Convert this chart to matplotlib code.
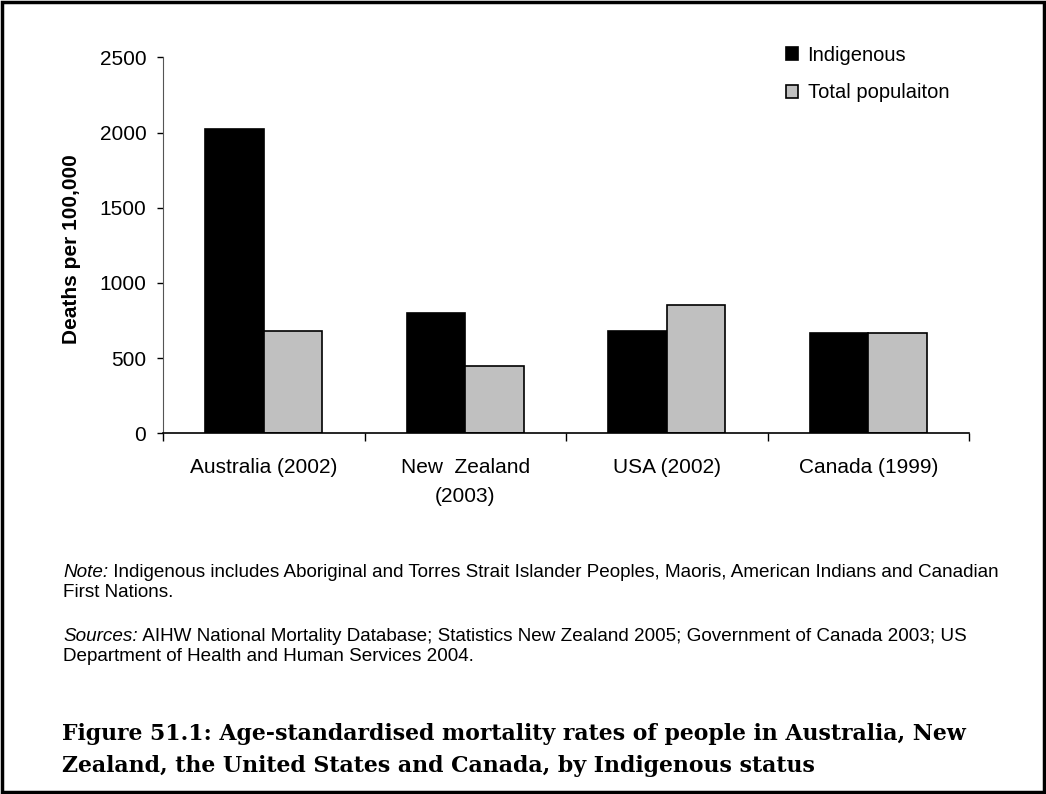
import numpy as np
import matplotlib
matplotlib.use("Agg")
import matplotlib.pyplot as plt
from matplotlib.patches import Rectangle

## Data ##
countries = ["Australia (2002)", "New  Zealand\n(2003)", "USA (2002)", "Canada (1999)"]
indigenous = [2020, 800, 680, 670]
total_pop = [680, 450, 850, 670]
series_names = ["Indigenous", "Total populaiton"]
y_ticks = [0, 500, 1000, 1500, 2000, 2500]

note_lines = ["Indigenous includes Aboriginal and Torres Strait Islander Peoples, Maoris, American Indians and Canadian",
              "First Nations."]
source_lines = ["AIHW National Mortality Database; Statistics New Zealand 2005; Government of Canada 2003; US",
                "Department of Health and Human Services 2004."]
title_lines = ["Figure 51.1: Age-standardised mortality rates of people in Australia, New",
               "Zealand, the United States and Canada, by Indigenous status"]

SANS = "Liberation Sans"
SERIF = "DejaVu Serif"
BAR_W = 0.29
W, H = 1046, 794

fig = plt.figure(figsize=(W / 100, H / 100), dpi=100)
fig.patch.set_facecolor("white")

# frame round the whole figure
fig.patches.append(Rectangle((0.0015, 0.002), 0.9965, 0.995, transform=fig.transFigure,
                             fill=False, edgecolor="black", linewidth=2.5))

ax = fig.add_axes([163 / W, 1 - 433.3 / H, 806 / W, 376 / H])
x = np.arange(len(countries))
ax.bar(x - BAR_W / 2, indigenous, BAR_W, color="black", edgecolor="black",
       linewidth=1.2, label=series_names[0])
ax.bar(x + BAR_W / 2, total_pop, BAR_W, color="#c0c0c0", edgecolor="black",
       linewidth=1.2, label=series_names[1])

ax.set_xlim(-0.5, len(countries) - 0.5)
ax.set_ylim(0, 2500)
ax.set_yticks(y_ticks)
ax.set_yticklabels([str(v) for v in y_ticks], fontsize=15, family=SANS)
ax.tick_params(axis="y", direction="out", length=4, width=1, pad=8)

# category labels sit between the boundary ticks
ax.set_xticks(np.arange(len(countries) + 1) - 0.5)
ax.set_xticklabels([])
ax.set_xticks(x, minor=True)
ax.set_xticklabels(countries, minor=True, fontsize=15, family=SANS, linespacing=1.65)
ax.tick_params(axis="x", which="major", direction="out", length=6, width=1)
ax.tick_params(axis="x", which="minor", length=0, pad=18)

for side in ["top", "right"]:
    ax.spines[side].set_visible(False)
ax.spines["left"].set_color("#555555")
ax.spines["bottom"].set_linewidth(1.2)

ax.set_ylabel("Deaths per 100,000", fontsize=15, fontweight="bold", family=SANS)
ax.yaxis.set_label_coords((81 - 163) / 806, 0.49)

leg = fig.legend(loc="upper left", bbox_to_anchor=(786 / W, 1 - 46 / H), frameon=False,
                 prop={"family": SANS, "size": 14.5}, handlelength=0.62, handleheight=0.62,
                 handletextpad=0.45, labelspacing=0.9, borderpad=0, borderaxespad=0)


def lead_line(x0, y0, lead, rest, size):
    # italic lead word followed by plain text on the same baseline
    t = fig.text(x0 / W, 1 - y0 / H, lead, fontsize=size, family=SANS, style="italic",
                 va="baseline")
    fig.canvas.draw()
    bb = t.get_window_extent()
    fig.text(bb.x1 / W, 1 - y0 / H, " " + rest, fontsize=size, family=SANS, va="baseline")


NOTE_SIZE = 13.6
lead_line(63, 577, "Note:", note_lines[0], NOTE_SIZE)
fig.text(63 / W, 1 - 597 / H, note_lines[1], fontsize=NOTE_SIZE, family=SANS, va="baseline")
lead_line(63, 641, "Sources:", source_lines[0], NOTE_SIZE)
fig.text(63 / W, 1 - 661 / H, source_lines[1], fontsize=NOTE_SIZE, family=SANS, va="baseline")

fig.text(62 / W, 1 - 740 / H, title_lines[0], fontsize=15.8, family=SERIF, fontweight="bold",
         va="baseline")
fig.text(62 / W, 1 - 772 / H, title_lines[1], fontsize=15.8, family=SERIF, fontweight="bold",
         va="baseline")

fig.savefig("out.png", dpi=100, facecolor="white")
